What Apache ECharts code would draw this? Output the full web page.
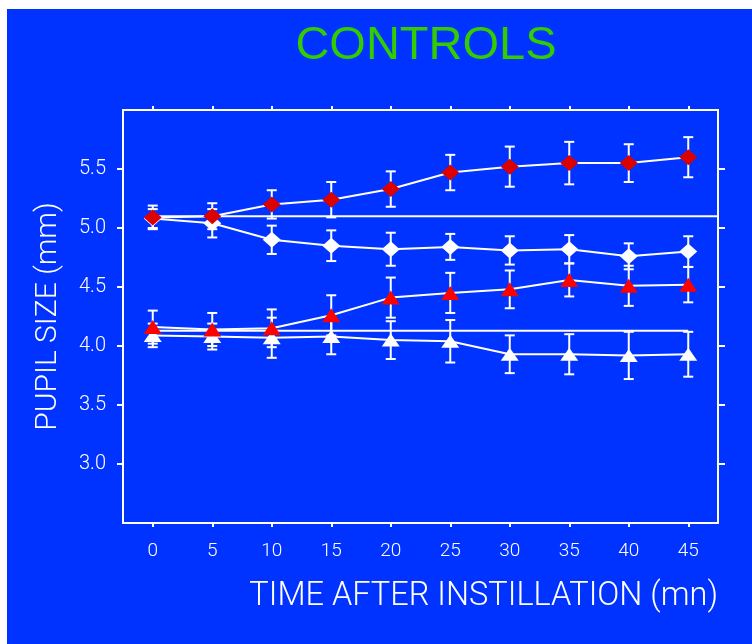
<!DOCTYPE html>
<html>
<head>
<meta charset="utf-8">
<title>Controls - pupil size</title>
<script src="https://cdn.jsdelivr.net/npm/echarts@6/dist/echarts.min.js"></script>
<style>
  html, body { margin: 0; padding: 0; background: #fff; }
  #chart { position: absolute; left: 7px; top: 9px; width: 745px; height: 635px; }
</style>
</head>
<body>
<div id="chart"></div>
<script>
// time after instillation (mn)
const times = [0, 5, 10, 15, 20, 25, 30, 35, 40, 45]
const xTicks = [0, 5, 10, 15, 20, 25, 30, 35, 40, 45]
const yTicks = [3.0, 3.5, 4.0, 4.5, 5.0, 5.5]

// pupil size (mm) and error bars
const redDiamond = [5.09, 5.10, 5.20, 5.24, 5.33, 5.47, 5.52, 5.55, 5.55, 5.60]
const redDiamondErr = [0.10, 0.11, 0.12, 0.15, 0.15, 0.15, 0.17, 0.18, 0.16, 0.17]
const whiteDiamond = [5.08, 5.04, 4.90, 4.85, 4.82, 4.84, 4.81, 4.82, 4.76, 4.80]
const whiteDiamondErr = [0.08, 0.12, 0.12, 0.13, 0.14, 0.11, 0.12, 0.12, 0.11, 0.13]
const redTriangle = [4.16, 4.14, 4.15, 4.26, 4.41, 4.45, 4.48, 4.56, 4.51, 4.52]
const redTriangleErr = [0.14, 0.14, 0.16, 0.17, 0.17, 0.17, 0.16, 0.14, 0.17, 0.15]
const whiteTriangle = [4.09, 4.08, 4.07, 4.08, 4.05, 4.04, 3.93, 3.93, 3.92, 3.93]
const whiteTriangleErr = [0.10, 0.11, 0.17, 0.15, 0.16, 0.18, 0.16, 0.17, 0.20, 0.19]

// baselines (value at t=0)
const diamondBaseline = 5.10
const triangleBaseline = 4.13

const X_MIN = -2.5, X_MAX = 47.5
const Y_MIN = 2.5, Y_MAX = 6.0

const WHITE = '#ffffff'
const FONT = 'Roboto, "Liberation Sans", sans-serif'

function errorBars(values, errs) {
  return {
    type: 'custom',
    silent: true,
    z: 3,
    encode: { x: 0, y: [1, 2] },
    data: times.map((t, i) => [t, values[i] - errs[i], values[i] + errs[i]]),
    renderItem: (params, api) => {
      const lo = api.coord([api.value(0), api.value(1)])
      const hi = api.coord([api.value(0), api.value(2)])
      const w = 5
      const style = { stroke: WHITE, lineWidth: 2 }
      return {
        type: 'group',
        children: [
          { type: 'line', shape: { x1: lo[0], y1: lo[1], x2: hi[0], y2: hi[1] }, style },
          { type: 'line', shape: { x1: lo[0] - w, y1: lo[1], x2: lo[0] + w, y2: lo[1] }, style },
          { type: 'line', shape: { x1: hi[0] - w, y1: hi[1], x2: hi[0] + w, y2: hi[1] }, style },
        ]
      }
    }
  }
}

function markerLine(values, symbol, size, color, z) {
  return {
    type: 'line',
    z,
    symbol,
    symbolSize: size,
    showAllSymbol: true,
    itemStyle: { color, borderWidth: 0 },
    lineStyle: { color: WHITE, width: 2 },
    data: times.map((t, i) => [t, values[i]])
  }
}

function baseline(value, xEnd) {
  return {
    type: 'line',
    z: 2,
    symbol: 'none',
    silent: true,
    lineStyle: { color: WHITE, width: 2 },
    data: [[times[0], value], [xEnd, value]]
  }
}

const axisLine = { show: true, onZero: false, lineStyle: { color: WHITE, width: 2 } }

const chart = echarts.init(document.getElementById('chart'))
chart.setOption({
  animation: false,
  backgroundColor: '#0033ff',
  title: {
    text: 'CONTROLS',
    left: 419,
    top: 14,
    padding: 0,
    textAlign: 'center',
    textStyle: { color: '#33cc00', fontSize: 47, fontWeight: 'normal', fontFamily: '"Liberation Sans", Arial, sans-serif' }
  },
  grid: { left: 116, right: 34, top: 101, bottom: 121 },
  xAxis: [
    {
      type: 'value', position: 'bottom', min: X_MIN, max: X_MAX,
      axisLine,
      axisTick: { show: true, inside: false, length: 4, customValues: xTicks, lineStyle: { color: WHITE, width: 2 } },
      axisLabel: { customValues: xTicks, color: WHITE, fontSize: 19, margin: 19, fontFamily: FONT, fontWeight: 300 },
      splitLine: { show: false },
      name: 'TIME AFTER INSTILLATION (mn)',
      nameLocation: 'end',
      nameGap: 0,
      nameTextStyle: { color: WHITE, fontSize: 32.5, fontFamily: FONT, fontWeight: 300, align: 'right', verticalAlign: 'top', padding: [57, 0, 0, 0] }
    },
    {
      type: 'value', position: 'top', min: X_MIN, max: X_MAX,
      axisLine,
      axisTick: { show: true, inside: false, length: 4, customValues: xTicks, lineStyle: { color: WHITE, width: 2 } },
      axisLabel: { show: false },
      splitLine: { show: false }
    }
  ],
  yAxis: [
    {
      type: 'value', position: 'left', min: Y_MIN, max: Y_MAX,
      axisLine,
      axisTick: { show: true, inside: false, length: 6, customValues: yTicks, lineStyle: { color: WHITE, width: 2 } },
      axisLabel: { customValues: yTicks, color: WHITE, fontSize: 20, margin: 17, fontFamily: FONT, fontWeight: 300, formatter: v => v.toFixed(1) },
      splitLine: { show: false },
      name: 'PUPIL SIZE (mm)',
      nameLocation: 'middle',
      nameGap: 60,
      nameTextStyle: { color: WHITE, fontSize: 30, fontFamily: FONT, fontWeight: 300 }
    },
    {
      type: 'value', position: 'right', min: Y_MIN, max: Y_MAX,
      axisLine,
      axisTick: { show: true, inside: false, length: 7, customValues: yTicks, lineStyle: { color: WHITE, width: 2 } },
      axisLabel: { show: false },
      splitLine: { show: false }
    }
  ],
  series: [
    baseline(diamondBaseline, X_MAX),
    baseline(triangleBaseline, times[times.length - 1]),
    errorBars(whiteDiamond, whiteDiamondErr),
    errorBars(redDiamond, redDiamondErr),
    errorBars(whiteTriangle, whiteTriangleErr),
    errorBars(redTriangle, redTriangleErr),
    markerLine(whiteDiamond, 'diamond', [18, 16], WHITE, 4),
    markerLine(whiteTriangle, 'triangle', [18, 13], WHITE, 4),
    markerLine(redDiamond, 'diamond', [18, 16], '#dd0000', 5),
    markerLine(redTriangle, 'triangle', [18, 14], '#ff0000', 5)
  ]
})
</script>
</body>
</html>
